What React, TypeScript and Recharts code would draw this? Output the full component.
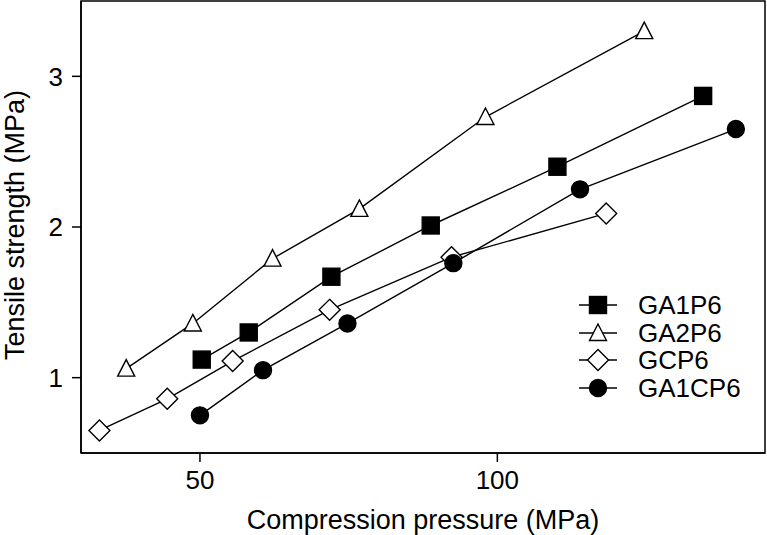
import React from 'react';
import { LineChart, Line, XAxis, YAxis, ReferenceArea } from 'recharts';

// values
const GA1P6_X = [50.3, 58.2, 72.1, 88.8, 110.1, 134.6];
const GA1P6_Y = [1.12, 1.3, 1.67, 2.01, 2.4, 2.87];
const GA2P6_X = [37.6, 48.8, 62.2, 76.8, 98.0, 124.7];
const GA2P6_Y = [1.06, 1.36, 1.79, 2.12, 2.73, 3.3];
const GCP6_X = [33.1, 44.5, 55.5, 71.8, 92.3, 118.3];
const GCP6_Y = [0.65, 0.86, 1.11, 1.45, 1.8, 2.09];
const GA1CP6_X = [50.0, 60.6, 74.8, 92.6, 113.9, 140.1];
const GA1CP6_Y = [0.75, 1.05, 1.36, 1.76, 2.25, 2.65];

const X_TICKS = [50, 100];
const Y_TICKS = [1, 2, 3];

const FONT = '"Liberation Sans", Arial, sans-serif';

const toPoints = (xs: number[], ys: number[]) => xs.map((x, i) => ({ x, y: ys[i] }));

type MarkerKind = 'square' | 'triangle' | 'diamond' | 'circle';

function Marker({ kind, cx, cy }: { kind: MarkerKind; cx: number; cy: number }) {
  const common = { stroke: '#000', strokeWidth: 1.4 };
  if (kind === 'square') {
    return <rect x={cx - 8.5} y={cy - 8.5} width={17} height={17} fill="#000" {...common} />;
  }
  if (kind === 'circle') {
    return <circle cx={cx} cy={cy} r={8.5} fill="#000" {...common} />;
  }
  if (kind === 'diamond') {
    const r = 10.5;
    return (
      <polygon
        points={`${cx},${cy - r} ${cx + r},${cy} ${cx},${cy + r} ${cx - r},${cy}`}
        fill="#fff"
        {...common}
      />
    );
  }
  // open triangle
  return (
    <polygon
      points={`${cx},${cy - 9} ${cx + 8.5},${cy + 7.5} ${cx - 8.5},${cy + 7.5}`}
      fill="#fff"
      {...common}
    />
  );
}

const SERIES: { name: string; kind: MarkerKind; data: { x: number; y: number }[] }[] = [
  { name: 'GA1P6', kind: 'square', data: toPoints(GA1P6_X, GA1P6_Y) },
  { name: 'GA2P6', kind: 'triangle', data: toPoints(GA2P6_X, GA2P6_Y) },
  { name: 'GCP6', kind: 'diamond', data: toPoints(GCP6_X, GCP6_Y) },
  { name: 'GA1CP6', kind: 'circle', data: toPoints(GA1CP6_X, GA1CP6_Y) },
];

function LegendBox() {
  return (
    <div
      style={{
        position: 'absolute',
        left: 579,
        top: 291,
        fontFamily: FONT,
        fontSize: 26,
        color: '#000',
      }}
    >
      {SERIES.map(s => (
        <div key={s.name} style={{ display: 'flex', alignItems: 'center', height: 27.7 }}>
          <svg width={38} height={28} style={{ overflow: 'visible' }}>
            <line x1={0} y1={14} x2={38} y2={14} stroke="#000" strokeWidth={1.4} />
            <Marker kind={s.kind} cx={19} cy={14} />
          </svg>
          <span style={{ marginLeft: 21, lineHeight: '28px' }}>{s.name}</span>
        </div>
      ))}
    </div>
  );
}

export default function App() {
  return (
    <div style={{ position: 'absolute', left: 0, top: 0, width: 767, height: 535, background: '#fff' }}>
      <LineChart width={767} height={535} margin={{ top: 1, right: 2, left: 0, bottom: 0 }}>
        <XAxis
          type="number"
          dataKey="x"
          domain={[30, 145]}
          ticks={X_TICKS}
          allowDataOverflow
          height={82}
          tickSize={9}
          tickMargin={9}
          stroke="#000"
          strokeWidth={1.5}
          tick={{ fill: '#000', fontSize: 26, fontFamily: FONT }}
          label={{
            value: 'Compression pressure (MPa)',
            position: 'insideBottom',
            offset: 6,
            fill: '#000',
            fontSize: 27,
            fontFamily: FONT,
          }}
        />
        <YAxis
          type="number"
          dataKey="y"
          domain={[0.5, 3.5]}
          ticks={Y_TICKS}
          allowDataOverflow
          width={81}
          tickSize={9}
          tickMargin={9}
          stroke="#000"
          strokeWidth={1.5}
          tick={{ fill: '#000', fontSize: 26, fontFamily: FONT }}
          label={{
            content: () => (
              <text
                x={24}
                y={225}
                transform="rotate(-90 24 225)"
                textAnchor="middle"
                fill="#000"
                fontSize={27}
                fontFamily={FONT}
              >
                Tensile strength (MPa)
              </text>
            ),
          }}
        />
        <ReferenceArea
          x1={30}
          x2={145}
          y1={0.5}
          y2={3.5}
          fill="none"
          fillOpacity={0}
          stroke="#000"
          strokeWidth={1.5}
          ifOverflow="visible"
        />
        {SERIES.map(s => (
          <Line
            key={s.name}
            data={s.data}
            dataKey="y"
            name={s.name}
            type="linear"
            stroke="#000"
            strokeWidth={1.4}
            isAnimationActive={false}
            dot={(p: any) => <Marker key={`${s.name}-${p.index}`} kind={s.kind} cx={p.cx} cy={p.cy} />}
            activeDot={false}
          />
        ))}
      </LineChart>
      <LegendBox />
    </div>
  );
}
